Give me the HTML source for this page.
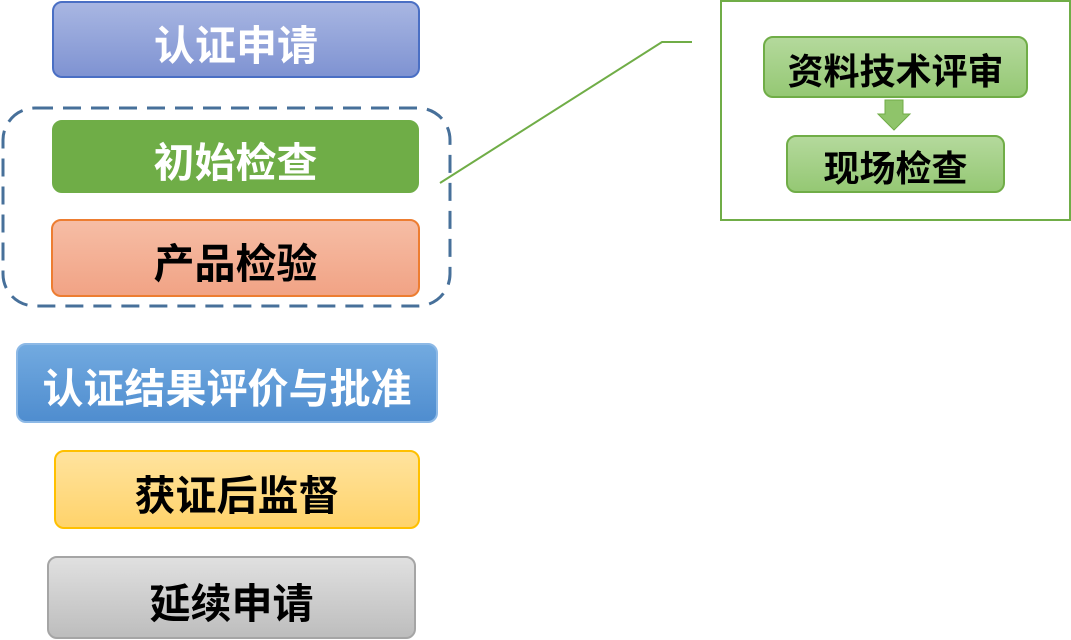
<!DOCTYPE html>
<html><head><meta charset="utf-8"><style>
body{margin:0;width:1071px;height:640px;background:#fff;position:relative;overflow:hidden;font-family:"Liberation Sans","Noto Sans CJK SC",sans-serif;}
.b{position:absolute;box-sizing:border-box;display:flex;align-items:center;justify-content:center;font-weight:bold;border-radius:10px;border:2px solid;font-size:41px;letter-spacing:0px;padding-top:4px;}
.w{color:#fff;}
.k{color:#000;}
</style></head><body>
<svg width="1071" height="640" style="position:absolute;left:0;top:0">
<rect x="3" y="108" width="447" height="198" rx="32" fill="none" stroke="#47709a" stroke-width="3" stroke-dasharray="18,10"/>
<polyline points="440,183 662,42 692,42" fill="none" stroke="#70ad47" stroke-width="2"/>
<rect x="721" y="1" width="349" height="219" fill="none" stroke="#70ad47" stroke-width="2"/>
<polygon points="885,100 903,100 903,114 910,114 894,130 878,114 885,114" fill="#8fc46a" stroke="#70ad47" stroke-width="1"/>
</svg>
<div class="b w" style="left:52px;top:1px;width:368px;height:77px;background:linear-gradient(#a8b6e2,#7f93d2);border-color:#4a6fc4;">认证申请</div>
<div class="b w" style="left:52px;top:120px;width:367px;height:73px;background:#6fad47;border-color:#6fad47;">初始检查</div>
<div class="b k" style="left:51px;top:219px;width:369px;height:78px;background:linear-gradient(#f6bda5,#f1a385);border-color:#ed7d31;">产品检验</div>
<div class="b w" style="left:16px;top:343px;width:422px;height:80px;background:linear-gradient(#72aae0,#4f8dcf);border-color:#8db9e6;">认证结果评价与批准</div>
<div class="b k" style="left:54px;top:450px;width:366px;height:79px;background:linear-gradient(#ffe39e,#ffd36b);border-color:#ffc000;">获证后监督</div>
<div class="b k" style="left:47px;top:556px;width:369px;height:83px;background:linear-gradient(#e0e0e0,#bdbdbd);border-color:#a5a5a5;">延续申请</div>
<div class="b k" style="left:763px;top:36px;width:265px;height:62px;background:linear-gradient(#b4d99c,#95c874);border-color:#70ad47;font-size:36px;">资料技术评审</div>
<div class="b k" style="left:786px;top:135px;width:219px;height:58px;background:linear-gradient(#b4d99c,#95c874);border-color:#70ad47;font-size:36px;">现场检查</div>
</body></html>
